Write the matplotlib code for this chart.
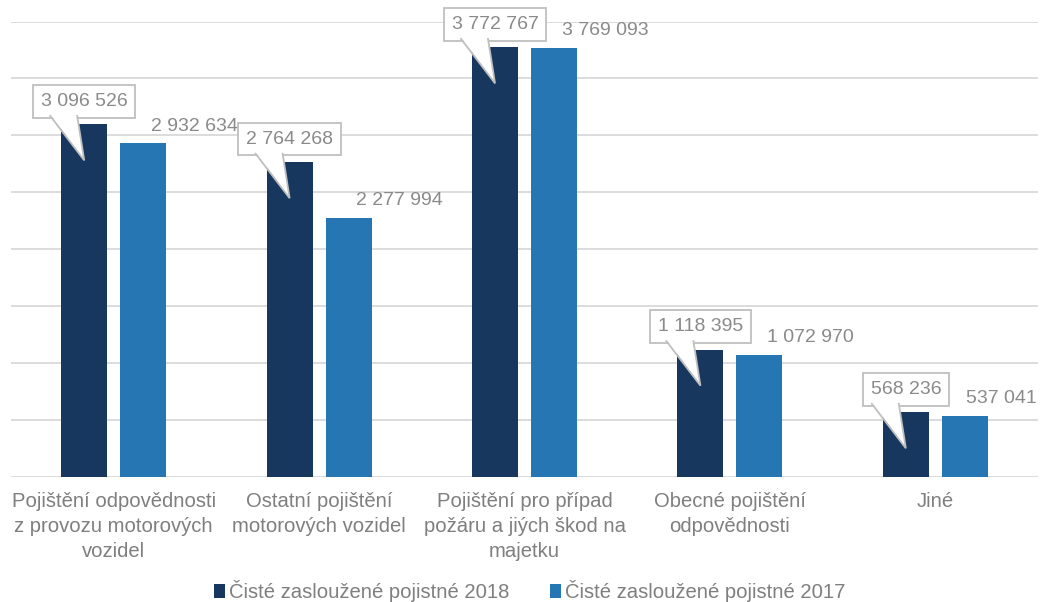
import matplotlib
matplotlib.use('Agg')
import matplotlib.pyplot as plt
import matplotlib.transforms as mtransforms
from matplotlib.patches import Polygon
from matplotlib.lines import Line2D
import numpy as np

plt.rcParams['font.family'] = ['Liberation Sans', 'DejaVu Sans']

categories = [
    'Pojištění odpovědnosti\nz provozu motorových\nvozidel',
    'Ostatní pojištění\nmotorových vozidel',
    'Pojištění pro případ\npožáru a jiých škod na\nmajetku',
    'Obecné pojištění\nodpovědnosti',
    'Jiné',
]
values_2018 = [3096526, 2764268, 3772767, 1118395, 568236]
values_2017 = [2932634, 2277994, 3769093, 1072970, 537041]
series_names = ['Čisté zasloužené pojistné 2018', 'Čisté zasloužené pojistné 2017']

DARK = '#17375e'
LIGHT = '#2676b3'
LABEL_GRAY = '#8a8a8a'
TEXT_GRAY = '#7f7f7f'
EDGE = '#bfbfbf'
FS_NUM = 14
FS_TXT = 14.6
DPI = 100


def fmt(v):
    return f'{v:,}'.replace(',', ' ')


def px(p):
    # pixels -> inches
    return p / DPI


fig = plt.figure(figsize=(10.41, 6.02), dpi=DPI)
ax = fig.add_axes([11 / 1041, 1 - 477 / 602, 1027 / 1041, (477 - 21.5) / 602])

x = np.arange(len(categories))
w = 0.224
off = 0.1435
ax.bar(x - off, values_2018, w, color=DARK, label=series_names[0], zorder=2)
ax.bar(x + off, values_2017, w, color=LIGHT, label=series_names[1], zorder=2)

ax.set_xlim(-0.5, len(categories) - 0.5)
ax.set_ylim(0, 4000000)
ax.set_yticks(np.arange(0, 4000001, 500000))
ax.yaxis.grid(True, color='#d9d9d9', linewidth=1.3, zorder=0)
ax.set_axisbelow(True)
ax.tick_params(axis='y', length=0, labelleft=False)
ax.tick_params(axis='x', length=0, pad=11)
for s in ax.spines.values():
    s.set_visible(False)
ax.set_xticks(x)
ax.set_xticklabels(categories, fontsize=FS_TXT, color=TEXT_GRAY, linespacing=1.4)

# callouts on 2018 bars (box above bar top, tail pointing into the bar)
for xi, v in zip(x - off, values_2018):
    anchor = fig.dpi_scale_trans + mtransforms.ScaledTranslation(xi, v, ax.transData)
    ax.text(0, px(23), fmt(v), transform=anchor, ha='center', va='center',
            fontsize=FS_NUM, color=LABEL_GRAY, zorder=5,
            bbox=dict(boxstyle='square,pad=0.4', fc='white', ec=EDGE, lw=1.3))
    base_l, base_r, tip_y, box_b = px(-34), px(-7), px(-36), px(8.5)
    ax.add_patch(Polygon([(base_l, box_b + px(1.5)), (0, tip_y), (base_r, box_b + px(1.5))],
                         closed=True, transform=anchor, fc='white', ec='none', zorder=6))
    ax.add_line(Line2D([base_l, 0, base_r], [box_b, tip_y, box_b], transform=anchor,
                       color=EDGE, lw=1.3, zorder=7, solid_joinstyle='miter'))

# plain labels on 2017 bars, kept inside the figure
fig.canvas.draw()
renderer = fig.canvas.get_renderer()
for xi, v in zip(x + off, values_2017):
    t = ax.annotate(fmt(v), xy=(xi, v), xytext=(51 / DPI * 72, 17 / DPI * 72),
                    textcoords='offset points', ha='center', va='center',
                    fontsize=FS_NUM, color=LABEL_GRAY, zorder=5)
    bb = t.get_window_extent(renderer)
    if bb.x1 > 1037:
        t.set_position((51 / DPI * 72 - (bb.x1 - 1037) / DPI * 72, 17 / DPI * 72))

fig.legend(loc='center', bbox_to_anchor=(0.509, 1 - 591 / 602), ncol=2, frameon=False,
           fontsize=FS_TXT, labelcolor=TEXT_GRAY, handlelength=0.55, handleheight=0.75,
           handletextpad=0.2, columnspacing=2.0)

fig.savefig('out.png', dpi=DPI)
